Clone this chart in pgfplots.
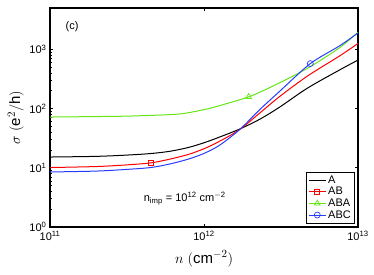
\documentclass[border=0pt]{standalone}
\usepackage{pgfplots}
\pgfplotsset{compat=1.18}
\usepackage{fontspec}
\setmainfont{Liberation Sans}
\definecolor{cA}{RGB}{0,0,0}
\definecolor{cAB}{RGB}{255,0,0}
\definecolor{cABA}{RGB}{100,230,20}
\definecolor{cABC}{RGB}{40,60,255}
\begin{document}
\begin{tikzpicture}
\begin{axis}[
  scale only axis,
  width=308pt, height=219pt,
  xmode=log, ymode=log,
  xmin=1e11, xmax=1e13, ymin=1, ymax=5000,
  xtick={1e11,1e12,1e13},
  xticklabels={10\textsuperscript{11},10\textsuperscript{12},10\textsuperscript{13}},
  ytick={1,10,100,1000},
  yticklabels={10\textsuperscript{0},10\textsuperscript{1},10\textsuperscript{2},10\textsuperscript{3}},
  tick align=inside, ticks=both,
  major tick length=3pt, minor tick length=1.5pt,
  axis line style={line width=1.4pt},
  every tick/.style={black, line width=0.6pt},
  tick label style={font=\fontsize{11}{13}\selectfont},
  xticklabel style={yshift=-1pt},
  xlabel={$n\ (\mathrm{cm}^{-2})$},
  ylabel={$\sigma\ (\mathrm{e}^2/\mathrm{h})$},
  label style={font=\fontsize{15}{17}\selectfont},
  xlabel style={yshift=-3pt},
  ylabel style={yshift=-1pt},
  legend style={at={(0.99,0.015)}, anchor=south east, draw=black, line width=1.2pt,
    font=\fontsize{11}{12}\selectfont, inner sep=1.5pt, row sep=-1.5pt,
    cells={anchor=west}},
  legend cell align=left,
  legend image post style={line width=0.8pt},
  every axis plot/.append style={line width=1pt},
  clip=true,
]
\addlegendimage{cA, line width=1pt}
\addlegendentry{A}
\addlegendimage{cAB, line width=1pt, mark=square, mark size=2.5pt, mark options={line width=0.7pt}}
\addlegendentry{AB}
\addlegendimage{cABA, line width=1pt, mark=triangle, mark size=3.3pt, mark options={line width=0.7pt}}
\addlegendentry{ABA}
\addlegendimage{cABC, line width=1pt, mark=o, mark size=3pt, mark options={line width=0.7pt}}
\addlegendentry{ABC}
\addplot[cA, smooth, no markers, forget plot] coordinates {
(1e11,15.2) (2e11,15.6) (3.16e11,16.4) (4.5e11,17.4) (6e11,19) (7.9e11,22) (1e12,26.5)
(1.26e12,33) (1.7e12,45) (2.3e12,66) (3.1e12,106) (4.7e12,222) (7.6e12,450) (1e13,660)};
\addplot[cAB, smooth, no markers, forget plot] coordinates {
(1e11,10.1) (2e11,10.5) (3.16e11,11.2) (4.5e11,12.1) (6e11,14) (7.9e11,16.8) (1e12,21)
(1.26e12,28) (1.7e12,44) (2.3e12,84) (3.1e12,160) (4.7e12,355) (7.6e12,776) (1e13,1260)};
\addplot[cABA, smooth, no markers, forget plot] coordinates {
(1e11,72) (2.7e11,74) (4e11,76) (6.9e11,81) (1e12,96) (1.26e12,112) (1.95e12,158)
(2.8e12,240) (4.7e12,480) (7.6e12,1070) (1e13,1950)};
\addplot[cABC, smooth, no markers, forget plot] coordinates {
(1e11,8.5) (2e11,8.8) (3.16e11,9.4) (4.5e11,10.1) (6e11,11.6) (7.9e11,14) (1e12,17.5)
(1.26e12,24) (1.7e12,44) (2.3e12,96) (3.1e12,196) (4.9e12,575) (7.6e12,1150) (1e13,1900)};
\addplot[cAB, only marks, mark=square, mark size=2.5pt, mark options={line width=0.7pt}, forget plot] coordinates {(4.5e11,12.1)};
\addplot[cABA, only marks, mark=triangle, mark size=3.3pt, mark options={line width=0.7pt}, forget plot] coordinates {(1.95e12,158)};
\addplot[cABC, only marks, mark=o, mark size=3pt, mark options={line width=0.7pt}, forget plot] coordinates {(4.9e12,575)};
\node[anchor=west, font=\fontsize{11}{13}\selectfont] at (axis cs:1.2e11,2450) {(c)};
\node[font=\fontsize{11}{13}\selectfont] at (axis cs:7.5e11,3.0) {n\textsubscript{imp} = 10\textsuperscript{12} cm\textsuperscript{$-$2}};
\end{axis}
\path (-50pt,-48pt) rectangle (324pt,227pt);
\end{tikzpicture}
\end{document}
